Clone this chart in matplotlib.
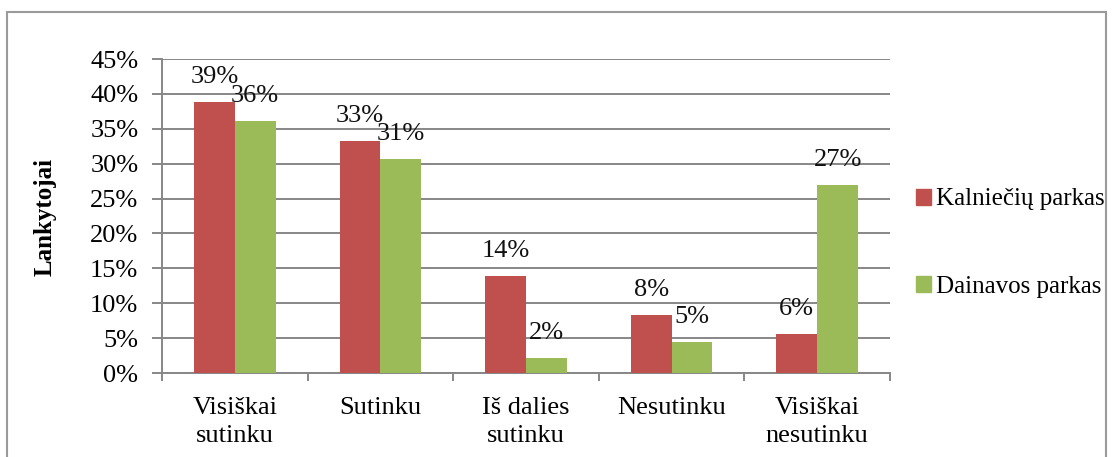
import matplotlib
matplotlib.use("Agg")
import matplotlib.pyplot as plt
from matplotlib.patches import Rectangle
import numpy as np

categories = ["Visiškai\nsutinku", "Sutinku", "Iš dalies\nsutinku", "Nesutinku", "Visiškai\nnesutinku"]
kalnieciu = [38.9, 33.3, 13.9, 8.3, 5.6]
dainavos = [36.1, 30.6, 2.1, 4.5, 26.9]
kalnieciu_labels = ["39%", "33%", "14%", "8%", "6%"]
dainavos_labels = ["36%", "31%", "2%", "5%", "27%"]
series_names = ["Kalniečių parkas", "Dainavos parkas"]
yticks = [0, 5, 10, 15, 20, 25, 30, 35, 40, 45]

RED = "#C0504D"
GREEN = "#9BBB59"
GRID = "#878787"
FS = 19

plt.rcParams["font.family"] = ["Liberation Serif", "DejaVu Serif"]

W, H = 1113, 457
fig = plt.figure(figsize=(W / 100, H / 100), dpi=100)
ax = fig.add_axes([162 / W, 1 - 373 / H, (890 - 162) / W, (373 - 59) / H])

x = np.arange(len(categories))
bw = 0.28
ax.bar(x - bw / 2, kalnieciu, bw, color=RED, zorder=3)
ax.bar(x + bw / 2, dainavos, bw, color=GREEN, zorder=3)

for xi, v, lab in zip(x, kalnieciu, kalnieciu_labels):
    ax.annotate(lab, (xi - bw / 2, v), xytext=(0, 18), textcoords="offset points",
                ha="center", va="center", fontsize=FS, color="#111111", zorder=4)
for xi, v, lab in zip(x, dainavos, dainavos_labels):
    ax.annotate(lab, (xi + bw / 2, v), xytext=(0, 18), textcoords="offset points",
                ha="center", va="center", fontsize=FS, color="#111111", zorder=4)

ax.set_xlim(-0.5, len(categories) - 0.5)
ax.set_ylim(0, 45)
ax.set_yticks(yticks)
ax.set_yticklabels([f"{t}%" for t in yticks], fontsize=FS)
ax.yaxis.grid(True, color=GRID, linewidth=1.4, zorder=0)
ax.set_axisbelow(True)

ax.set_xticks(x)
ax.set_xticklabels(categories, fontsize=FS, linespacing=1.4)
ax.tick_params(axis="x", which="major", length=0, pad=17)
ax.set_xticks(np.arange(-0.5, len(categories) + 0.5, 1), minor=True)
ax.tick_params(axis="x", which="minor", length=6, width=1.4, color=GRID, direction="out")
ax.tick_params(axis="y", length=7, width=1.4, color=GRID, direction="out", pad=10)

for s in ["top", "right"]:
    ax.spines[s].set_visible(False)
ax.spines["left"].set_color(GRID)
ax.spines["left"].set_linewidth(1.4)
ax.spines["bottom"].set_color(GRID)
ax.spines["bottom"].set_linewidth(1.4)

fig.text(45 / W, 1 - 217 / H, "Lankytojai", rotation=90, fontsize=18, fontweight="bold",
         ha="center", va="center")

handles = [Rectangle((0, 0), 1, 1, color=RED), Rectangle((0, 0), 1, 1, color=GREEN)]
fig.legend(handles, series_names, loc="center left", bbox_to_anchor=(906 / W, 1 - 243 / H),
           frameon=False, fontsize=18, handlelength=0.6, handleheight=0.6,
           handletextpad=0.2, labelspacing=2.6, borderaxespad=0)

border = Rectangle((7 / W, -0.05), 1099 / W, 1.05 - 12 / H, transform=fig.transFigure,
                   fill=False, edgecolor="#9a9a9a", linewidth=1.5)
fig.patches.append(border)

fig.savefig("out.png", dpi=100)
